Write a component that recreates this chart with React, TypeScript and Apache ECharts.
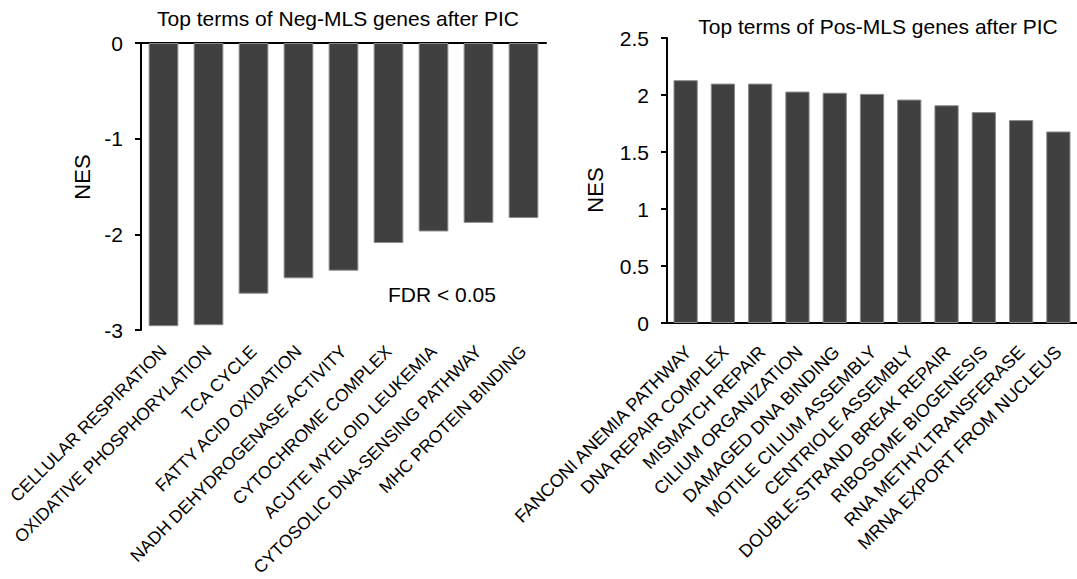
import React, { useEffect, useRef } from "react";
import * as echarts from "echarts";

const negTerms = [
  "CELLULAR RESPIRATION",
  "OXIDATIVE PHOSPHORYLATION",
  "TCA CYCLE",
  "FATTY ACID OXIDATION",
  "NADH DEHYDROGENASE ACTIVITY",
  "CYTOCHROME COMPLEX",
  "ACUTE MYELOID LEUKEMIA",
  "CYTOSOLIC DNA-SENSING PATHWAY",
  "MHC PROTEIN BINDING",
];
const negNES = [-2.96, -2.95, -2.62, -2.46, -2.38, -2.09, -1.97, -1.88, -1.83];

const posTerms = [
  "FANCONI ANEMIA PATHWAY",
  "DNA REPAIR COMPLEX",
  "MISMATCH REPAIR",
  "CILIUM ORGANIZATION",
  "DAMAGED DNA BINDING",
  "MOTILE CILIUM ASSEMBLY",
  "CENTRIOLE ASSEMBLY",
  "DOUBLE-STRAND BREAK REPAIR",
  "RIBOSOME BIOGENESIS",
  "RNA METHYLTRANSFERASE",
  "MRNA EXPORT FROM NUCLEUS",
];
const posNES = [2.13, 2.1, 2.1, 2.03, 2.02, 2.01, 1.96, 1.91, 1.85, 1.78, 1.68];

const negTitle = "Top terms of Neg-MLS genes after PIC";
const posTitle = "Top terms of Pos-MLS genes after PIC";
const yName = "NES";
const note = "FDR < 0.05";

const FONT = "'Liberation Sans', Arial, Helvetica, sans-serif";

export default function App() {
  const ref = useRef<HTMLDivElement>(null);
  useEffect(() => {
    if (!ref.current) return;
    const chart = echarts.init(ref.current, undefined, { renderer: "svg" });
    const axisLineStyle = { color: "#000", width: 2 };
    const barStyle = { color: "#404040", borderColor: "#8a8a8a", borderWidth: 1 };
    const labelStyle = {
      rotate: 45,
      interval: 0,
      color: "#000",
      fontFamily: FONT,
    };
    const txt = (text: string, x: number, y: number, size: number, rotation = 0) => ({
      type: "text",
      x,
      y,
      rotation,
      style: {
        text,
        font: `${size}px ${FONT}`,
        fill: "#000",
        textAlign: "center",
        textVerticalAlign: "middle",
      },
    });
    chart.setOption({
      animation: false,
      textStyle: { fontFamily: FONT, color: "#000" },
      grid: [
        { left: 141, top: 43, width: 405, height: 287 },
        { left: 667, top: 38, width: 411, height: 285 },
        // label-only axes
        { left: 141, top: 43, width: 405, height: 287 },
        { left: 670, top: 38, width: 411, height: 285 },
      ],
      xAxis: [
        {
          gridIndex: 0,
          type: "category",
          position: "top",
          data: negTerms,
          axisLine: { lineStyle: axisLineStyle },
          axisTick: { inside: true, length: 6, lineStyle: { width: 2, color: "#000" } },
          axisLabel: { show: false },
        },
        {
          gridIndex: 1,
          type: "category",
          position: "bottom",
          data: posTerms,
          axisLine: { onZero: false, lineStyle: axisLineStyle },
          axisTick: { length: 6, lineStyle: { width: 2, color: "#000" } },
          axisLabel: { show: false },
        },
        {
          gridIndex: 2,
          type: "category",
          position: "bottom",
          data: negTerms,
          axisLine: { show: false, onZero: false },
          axisTick: { show: false },
          axisLabel: { ...labelStyle, fontSize: 17.5, margin: 31 },
        },
        {
          gridIndex: 3,
          type: "category",
          position: "bottom",
          data: posTerms,
          axisLine: { show: false, onZero: false },
          axisTick: { show: false },
          axisLabel: { ...labelStyle, fontSize: 18, margin: 26 },
        },
      ],
      yAxis: [
        {
          gridIndex: 0,
          type: "value",
          min: -3,
          max: 0,
          interval: 1,
          splitLine: { show: false },
          axisLine: { show: true, lineStyle: axisLineStyle },
          axisTick: { show: true, length: 6, lineStyle: { width: 2, color: "#000" } },
          axisLabel: { fontSize: 21, color: "#000", fontFamily: FONT, margin: 18 },
        },
        {
          gridIndex: 1,
          type: "value",
          min: 0,
          max: 2.5,
          interval: 0.5,
          splitLine: { show: false },
          axisLine: { show: true, lineStyle: axisLineStyle },
          axisTick: { show: true, length: 6, lineStyle: { width: 2, color: "#000" } },
          axisLabel: { fontSize: 21, color: "#000", fontFamily: FONT, margin: 18 },
        },
        { gridIndex: 2, type: "value", min: -3, max: 0, show: false },
        { gridIndex: 3, type: "value", min: 0, max: 2.5, show: false },
      ],
      series: [
        {
          type: "bar",
          xAxisIndex: 0,
          yAxisIndex: 0,
          data: negNES,
          barWidth: "66%",
          itemStyle: barStyle,
        },
        {
          type: "bar",
          xAxisIndex: 1,
          yAxisIndex: 1,
          data: posNES,
          barWidth: "65%",
          itemStyle: barStyle,
        },
      ],
      graphic: [
        txt(negTitle, 338, 18, 21),
        txt(posTitle, 878, 26, 21),
        txt(note, 442, 294, 21),
        txt(yName, 82, 177, 22, Math.PI / 2),
        txt(yName, 595, 190, 22, Math.PI / 2),
      ],
    });
    return () => chart.dispose();
  }, []);
  return (
    <div
      ref={ref}
      style={{ position: "fixed", left: 0, top: 0, width: 1077, height: 579, background: "#fff" }}
    />
  );
}
